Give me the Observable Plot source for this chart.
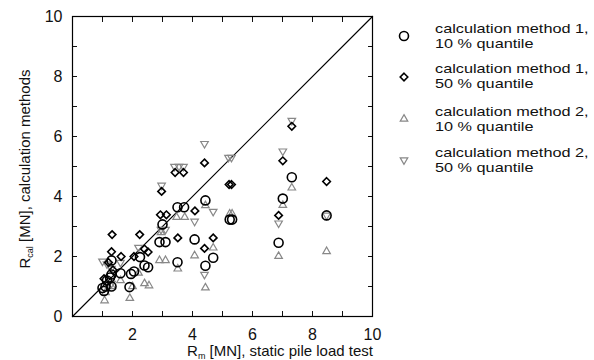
<!DOCTYPE html>
<html><head><meta charset="utf-8">
<script src="https://cdn.jsdelivr.net/npm/d3@7"></script>
<script src="https://cdn.jsdelivr.net/npm/@observablehq/plot@0.6"></script>
<style>
body{margin:0;background:#fff;}
#wrap{position:relative;width:594px;height:360px;overflow:hidden;font-family:"Liberation Sans",Arial,sans-serif;}
.line{position:absolute;left:435px;font-size:13px;line-height:14px;height:14px;color:#111;white-space:nowrap;transform:scaleX(1.25);transform-origin:0 50%;}
.sym{position:absolute;}
</style></head><body><div id="wrap"></div>
<script>
// x = static pile load test R_m [MN], y = calculated R_cal [MN]
const method1Q10 = [[1.0,0.95],[1.05,0.85],[1.1,1.0],[1.15,1.2],[1.25,1.3],[1.3,1.0],[1.3,1.4],[1.3,1.87],
  [1.6,1.44],[1.9,0.98],[1.95,1.42],[2.05,1.5],[2.25,1.98],[2.4,1.7],[2.52,1.64],
  [2.9,2.48],[3.1,2.48],[3.0,3.07],[3.5,3.64],[3.72,3.64],[3.5,1.81],[4.07,2.57],[4.43,3.87],[4.43,1.69],[4.69,1.96],
  [5.24,3.23],[5.32,3.23],[6.87,2.46],[7.01,3.93],[7.31,4.64],[8.47,3.37]];
const method1Q50 = [[1.05,1.26],[1.2,1.8],[1.35,1.55],[1.3,2.16],[1.32,2.73],[1.62,2.0],[2.05,2.0],[2.24,2.73],[2.4,2.25],[2.52,2.15],
  [2.93,3.39],[3.13,3.39],[2.97,4.17],[3.42,4.8],[3.7,4.8],[3.51,2.62],[4.08,3.52],[4.4,5.12],[4.4,2.27],[4.69,2.62],
  [5.22,4.4],[5.3,4.4],[6.87,3.37],[7.01,5.19],[7.31,6.34],[8.47,4.5]];
const method2Q10 = [[1.07,0.53],[1.1,0.8],[1.3,1.0],[1.6,1.2],[1.91,0.61],[2.0,1.0],[2.2,1.45],[2.4,1.1],[2.55,1.03],
  [2.9,1.87],[3.1,1.87],[2.95,2.8],[3.47,3.31],[3.74,3.31],[3.51,1.59],[4.07,2.03],[4.43,3.7],[4.43,0.96],[4.69,2.29],
  [5.24,3.42],[5.32,3.42],[6.87,2.01],[7.01,3.71],[7.31,4.29],[8.47,2.17]];
const method2Q50 = [[1.0,1.84],[1.15,1.75],[1.3,1.6],[1.3,1.1],[1.6,1.8],[2.2,2.3],[2.95,2.9],[3.1,2.9],[2.97,4.37],
  [3.4,5.0],[3.55,5.0],[3.7,5.0],[4.07,3.17],[4.4,5.76],[4.4,1.4],[4.69,3.5],[5.2,5.3],[5.3,5.3],
  [6.87,3.11],[7.01,5.51],[7.31,6.53],[8.47,3.37]];
const seriesLabels = [["calculation method 1,","10 % quantile"],["calculation method 1,","50 % quantile"],
  ["calculation method 2,","10 % quantile"],["calculation method 2,","50 % quantile"]];
const tickValues = [0,1,2,3,4,5,6,7,8,9,10];
const xTickLabels = ["","","2","","4","","6","","8","","10"];
const yTickLabels = ["0","","2","","4","","6","","8","","10"];
const identityLine = [0, 10];

const styles = [
  {symbol:"circle", r:4.5, stroke:"#000", strokeWidth:1.6},
  {symbol:"diamond2", r:3.4, stroke:"#000", strokeWidth:1.6},
  {symbol:"triangle", r:2.8, stroke:"#888", strokeWidth:1.2},
  {symbol:"triangle", r:2.8, stroke:"#888", strokeWidth:1.2, rotate:180}
];

const dotMark = (data, st) => Plot.dot(data, {x: d => d[0], y: d => d[1], fill: "none", ...st});

const chart = Plot.plot({
  width: 594, height: 360,
  marginLeft: 72, marginRight: 222, marginTop: 16, marginBottom: 44,
  style: {fontFamily: '"Liberation Sans", Arial, sans-serif', fontSize: "16px", color: "#111", background: "#fff"},
  x: {domain: [0, 10]},
  y: {domain: [0, 10]},
  marks: [
    Plot.axisX({anchor: "bottom", ticks: tickValues, tickSize: -5, tickPadding: 17, tickFormat: (d, i) => xTickLabels[i], label: null, fontSize: 16}),
    Plot.axisX({anchor: "top", ticks: tickValues, tickSize: -5, tickFormat: () => "", label: null}),
    Plot.axisY({anchor: "left", ticks: tickValues, tickSize: -5, tickPadding: 15, tickFormat: (d, i) => yTickLabels[i], label: null, fontSize: 16}),
    Plot.axisY({anchor: "right", ticks: tickValues, tickSize: -5, tickFormat: () => "", label: null}),
    Plot.line(identityLine.map(v => [v, v]), {x: d => d[0], y: d => d[1], stroke: "#000", strokeWidth: 1.2}),
    dotMark(method2Q10, styles[2]),
    dotMark(method2Q50, styles[3]),
    dotMark(method1Q10, styles[0]),
    dotMark(method1Q50, styles[1]),
    Plot.frame({stroke: "#000", strokeWidth: 1.2})
  ]
});

const wrap = document.getElementById("wrap");
wrap.appendChild(chart);

const svg = d3.select(chart);
const fam = '"Liberation Sans", Arial, sans-serif';
// x axis label
const xl = svg.append("text").attr("x", 280).attr("y", 356).attr("text-anchor", "middle")
  .attr("font-family", fam).attr("font-size", 15).attr("fill", "#111");
xl.append("tspan").text("R");
xl.append("tspan").attr("font-size", 9).attr("dy", 3).text("m");
xl.append("tspan").attr("dy", -3).text(" [MN], static pile load test");
// y axis label
const yl = svg.append("text").attr("transform", "translate(30,169) rotate(-90)").attr("text-anchor", "middle")
  .attr("font-family", fam).attr("font-size", 15).attr("fill", "#111");
yl.append("tspan").text("R");
yl.append("tspan").attr("font-size", 9).attr("dy", 3).text("cal");
yl.append("tspan").attr("dy", -3).text(" [MN], calculation methods");

// legend
const legendTops = [30, 70, 113, 154];
const symY = [36, 77, 119, 160];
seriesLabels.forEach((lab, i) => {
  lab.forEach((txt, j) => {
    const div = document.createElement("div");
    div.className = "line";
    div.style.top = (legendTops[i] - 8 + j * 15) + "px";
    div.textContent = txt;
    wrap.appendChild(div);
  });
  const st = styles[i];
  const s = d3.create("svg").attr("width", 16).attr("height", 16).attr("class", "sym")
    .style("left", (404 - 8) + "px").style("top", (symY[i] - 8) + "px");
  const type = {circle: d3.symbolCircle, diamond2: d3.symbolDiamond2, triangle: d3.symbolTriangle}[st.symbol];
  s.append("path").attr("d", d3.symbol(type, Math.PI * st.r * st.r)())
    .attr("transform", `translate(8,8) rotate(${st.rotate || 0})`)
    .attr("fill", "none").attr("stroke", st.stroke).attr("stroke-width", st.strokeWidth);
  wrap.appendChild(s.node());
});
</script>
</body></html>
